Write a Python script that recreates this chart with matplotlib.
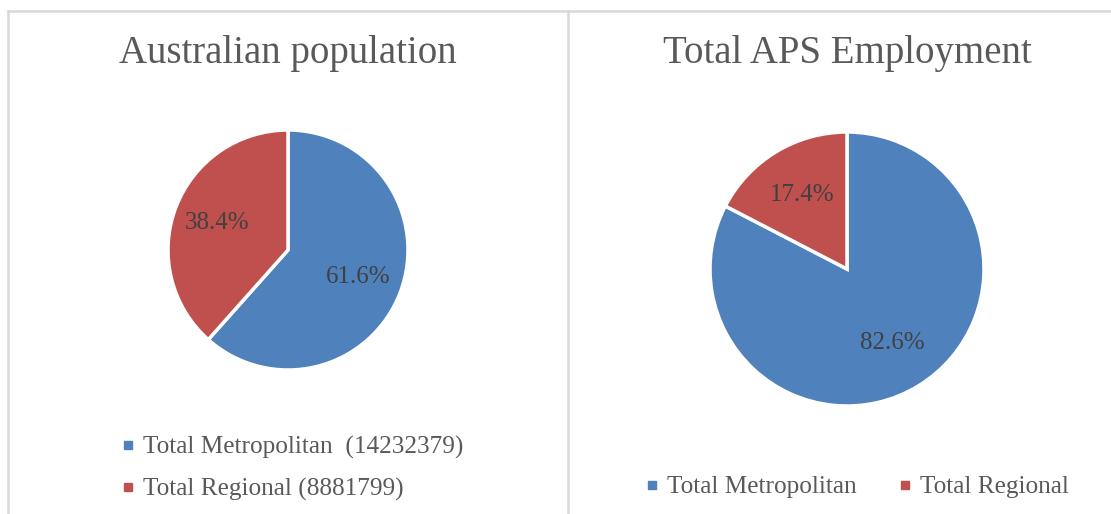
import matplotlib.pyplot as plt
from matplotlib.lines import Line2D

plt.rcParams['font.family'] = ['Liberation Serif', 'DejaVu Serif']

# data
categories = ["Total Metropolitan", "Total Regional"]
pop_values = [14232379, 8881799]
aps_share = [82.6, 17.4]
colors = ["#4F81BD", "#C0504D"]
titles = ["Australian population", "Total APS Employment"]

W, H = 1111, 514
fig = plt.figure(figsize=(W / 100, H / 100), dpi=100)

def px_axes(cx, cy, r):
    # axes box (figure fraction) from a pie centre and radius in pixels
    return [(cx - r) / W, (H - cy - r) / H, 2 * r / W, 2 * r / H]

def draw_pie(ax, values):
    wedges, _, autotexts = ax.pie(
        values, colors=colors, startangle=90, counterclock=False,
        autopct="%1.1f%%", pctdistance=0.63,
        wedgeprops=dict(edgecolor="white", linewidth=2.5),
        textprops=dict(color="#404040", fontsize=18))
    ax.set_xlim(-1, 1)
    ax.set_ylim(-1, 1)
    ax.set_aspect("equal")
    return wedges

ax1 = fig.add_axes(px_axes(288, 250, 120))
draw_pie(ax1, pop_values)
ax2 = fig.add_axes(px_axes(847, 269, 137))
draw_pie(ax2, aps_share)

fig.text(288 / W, 1 - 54 / H, titles[0], ha="center", va="center",
         fontsize=28, color="#595959")
fig.text(847 / W, 1 - 54 / H, titles[1], ha="center", va="center",
         fontsize=28, color="#595959")

handles = [Line2D([], [], marker="s", linestyle="", markersize=6,
                  markerfacecolor=c, markeredgecolor=c) for c in colors]

left_labels = [f"{categories[0]}  ({pop_values[0]})",
               f"{categories[1]} ({pop_values[1]})"]
fig.legend(handles, left_labels, loc="upper left",
           bbox_to_anchor=(110 / W, 1 - 426 / H), frameon=False,
           fontsize=18.2, labelcolor="#595959", handlelength=0.6,
           handletextpad=0.3, labelspacing=0.75, borderaxespad=0)

fig.legend(handles, categories, loc="center left",
           bbox_to_anchor=(634 / W, 1 - 487 / H), frameon=False, ncol=2,
           fontsize=18.2, labelcolor="#595959", handlelength=0.6,
           handletextpad=0.3, columnspacing=1.6, borderaxespad=0)

# chart frame lines
frame = "#D9D9D9"
fig.add_artist(Line2D([8 / W, 1], [1 - 11 / H, 1 - 11 / H], color=frame, lw=1.8))
fig.add_artist(Line2D([8 / W, 8 / W], [0, 1 - 11 / H], color=frame, lw=1.8))
fig.add_artist(Line2D([568 / W, 568 / W], [0, 1 - 11 / H], color=frame, lw=1.8))

fig.savefig("out.png", dpi=100)
